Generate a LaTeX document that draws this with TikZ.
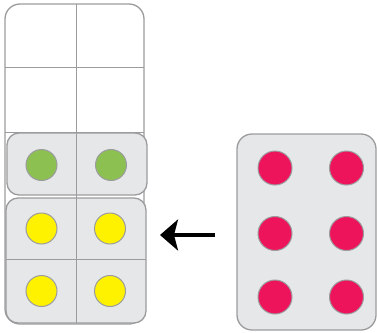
\documentclass[tikz,border=0pt]{standalone}
\usetikzlibrary{arrows.meta}
\definecolor{boxgray}{HTML}{E6E7E9}
\definecolor{edgegray}{HTML}{9C9C9E}
\definecolor{dotgreen}{HTML}{8CC152}
\definecolor{dotyellow}{HTML}{FFF200}
\definecolor{dotred}{HTML}{EE145B}
\tikzset{
  panel/.style={draw=edgegray, line width=1.3pt},
  gridline/.style={draw=edgegray, line width=1pt},
  dot/.style={circle, draw=edgegray, line width=1pt, minimum size=31pt, inner sep=0pt},
  bigdot/.style={circle, draw=edgegray, line width=1pt, minimum size=34pt, inner sep=0pt},
}
\begin{document}
\begin{tikzpicture}[x=1pt,y=-1pt]
\useasboundingbox (0,0) rectangle (377,332);
% tall outer box
\draw[panel, fill=white, rounded corners=15pt] (5,4) rectangle (144,324);
\draw[gridline] (5,67) -- (144,67);
\draw[gridline] (5,132) -- (144,132);
% green box
\draw[panel, fill=boxgray, rounded corners=12pt] (7,133) rectangle (147,195);
% yellow box
\draw[panel, fill=boxgray, rounded corners=12pt] (6,198) rectangle (146,323);
\draw[gridline] (6,259) -- (146,259);
\draw[gridline] (76.5,4) -- (76.5,323);
% dots
\node[dot, fill=dotgreen] (g1) at (41.5,165) {};
\node[dot, fill=dotgreen] (g2) at (111,165) {};
\node[dot, fill=dotyellow] (y1) at (41.5,228.5) {};
\node[dot, fill=dotyellow] (y2) at (110,228.5) {};
\node[dot, fill=dotyellow] (y3) at (41.5,291) {};
\node[dot, fill=dotyellow] (y4) at (110,291) {};
% right box
\draw[panel, fill=boxgray, rounded corners=15pt] (237,134) rectangle (376,330);
\node[bigdot, fill=dotred] (r1) at (275,168) {};
\node[bigdot, fill=dotred] (r2) at (346.5,168) {};
\node[bigdot, fill=dotred] (r3) at (275,233.5) {};
\node[bigdot, fill=dotred] (r4) at (346.5,233.5) {};
\node[bigdot, fill=dotred] (r5) at (275,297) {};
\node[bigdot, fill=dotred] (r6) at (346.5,297) {};
% arrow
\coordinate (as) at (215,235);
\coordinate (ae) at (160,235);
\draw[line width=4pt, -{Stealth[length=18pt, width=31pt, inset=4pt]}] (as) -- (ae);
\end{tikzpicture}
\end{document}
